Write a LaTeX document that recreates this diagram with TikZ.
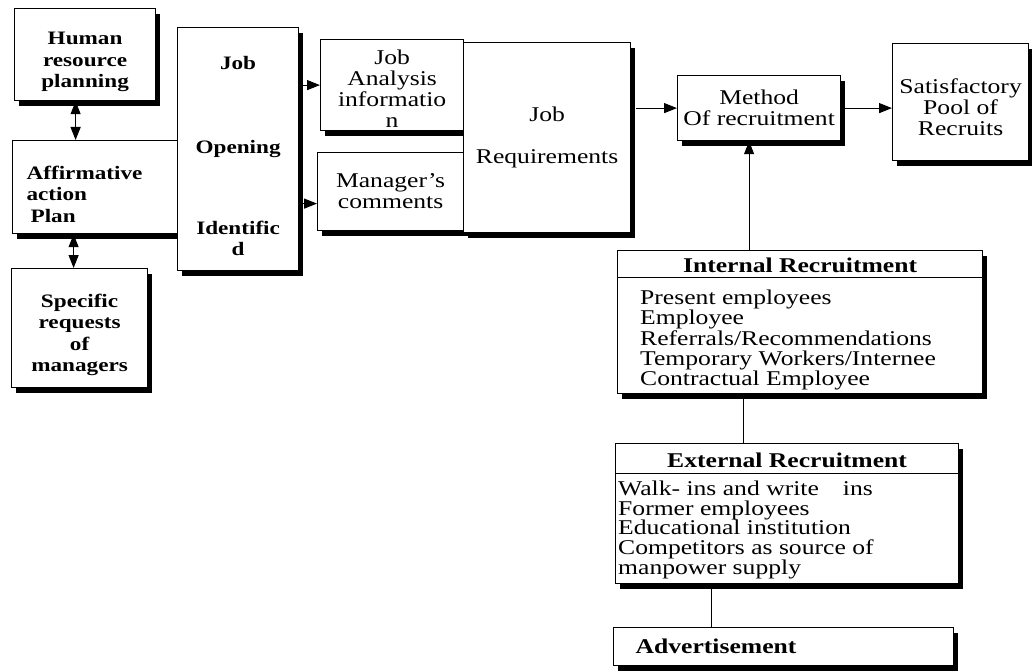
\documentclass[tikz,border=0pt]{standalone}
\usepackage{fontspec}
\setmainfont{Liberation Serif}[FakeStretch=1.22]
\usetikzlibrary{arrows.meta,shadows}
\newcommand{\fr}{\fontsize{21}{21}\selectfont}
\newcommand{\fb}{\bfseries\fontsize{19}{21.5}\selectfont}
\newcommand{\fh}{\bfseries\fontsize{21}{21}\selectfont}
\tikzset{
  box/.style={draw, line width=1.2pt, fill=white, anchor=north west, inner sep=0pt,
    drop shadow={shadow xshift=4.5pt, shadow yshift=-5.5pt, fill=black, opacity=1}},
  lbl/.style={inner sep=0pt, align=left},
  conn/.style={line width=1.1pt},
  arr/.style={conn, -{Triangle[length=13pt,width=10pt]}},
  dbl/.style={conn, {Triangle[length=13pt,width=10pt]}-{Triangle[length=13pt,width=10pt]}}
}
\begin{document}
\begin{tikzpicture}[x=1pt,y=-1pt]
\useasboundingbox (0,0) rectangle (1032,671);
% left column
\node[box, minimum width=141pt, minimum height=92pt, align=center, font=\fb] (hrp) at (14,8) {\rule{0pt}{27pt}Human\\resource\\planning};
\node[box, minimum width=165pt, minimum height=93pt, text width=137pt, inner xsep=14pt, align=left, font=\fb] (aap) at (12,140) {\rule{0pt}{27pt}Affirmative\\action\\\hspace*{4pt}Plan};
\node[box, minimum width=136pt, minimum height=119pt, align=center, font=\fb] (spec) at (11,268) {\rule{0pt}{27pt}Specific\\requests\\of\\managers};
\node[box, minimum width=121pt, minimum height=243pt, align=center, font=\fb] (joi) at (177,27) {\rule{0pt}{27pt}Job\\[63pt]Opening\\[59pt]Identific\\d};
% middle
\node[box, minimum width=143pt, minimum height=91pt, align=center, font=\fr] (jai) at (320,39) {\rule{0pt}{22pt}Job\\Analysis\\informatio\\n};
\node[box, minimum width=146pt, minimum height=78pt, align=center, font=\fr] (mgr) at (317,152) {Manager’s\\comments};
\node[box, minimum width=167pt, minimum height=190pt, align=center, font=\fr] (jr) at (463,42) {Job\\[21pt]Requirements};
% right
\node[box, minimum width=163pt, minimum height=65pt, align=center, font=\fr] (meth) at (677,75) {Method\\Of recruitment};
\node[box, minimum width=136pt, minimum height=117pt, align=center, font=\fr] (sat) at (892,43) {\rule{0pt}{26pt}Satisfactory\\Pool of\\Recruits};
% internal
\node[box, minimum width=365pt, minimum height=143pt] (intr) at (617,250) {};
\node[lbl, anchor=base, font=\fh] (intrh) at ([yshift=-22pt]intr.north) {Internal Recruitment};
\coordinate (intrl) at ([yshift=-27pt]intr.north);
\draw[line width=1pt] (intr.west |- intrl) -- (intr.east |- intrl);
\node[lbl, anchor=north west, font=\fontsize{21}{20.2}\selectfont] (intrb) at ([xshift=23pt,yshift=-40pt]intr.north west)
  {Present employees\\Employee\\Referrals/Recommendations\\Temporary Workers/Internee\\Contractual Employee};
% external
\node[box, minimum width=343pt, minimum height=140pt] (extr) at (615,443) {};
\node[lbl, anchor=base, font=\fh] (extrh) at ([yshift=-24pt]extr.north) {External Recruitment};
\coordinate (extrl) at ([yshift=-30pt]extr.north);
\draw[line width=1pt] (extr.west |- extrl) -- (extr.east |- extrl);
\node[lbl, anchor=north west, font=\fontsize{21}{19.6}\selectfont] (extrb) at ([xshift=3pt,yshift=-38pt]extr.north west)
  {Walk- ins and write\hspace{24pt}ins\\Former employees\\Educational institution\\Competitors as source of\\manpower supply};
% advertisement
\node[box, minimum width=340pt, minimum height=38pt, text width=296pt, inner xsep=22pt, align=left, font=\fh] (adv) at (613,627) {Advertisement};
% connectors
\coordinate (mgrin) at ([yshift=-12pt]mgr.west);
\draw[dbl] ([xshift=-9.5pt]hrp.south) -- ([xshift=-9.5pt]hrp.south |- aap.north);
\draw[dbl] ([xshift=-6pt]spec.north |- aap.south) -- ([xshift=-6pt]spec.north);
\draw[arr] (joi.east |- jai.west) -- (jai.west);
\draw[arr] (joi.east |- mgrin) -- (mgrin);
\draw[arr] ([xshift=5pt]jr.east |- meth.west) -- (meth.west);
\draw[arr] (meth.east) -- (meth.east -| sat.west);
\draw[arr] ([xshift=-10pt]meth.south |- intr.north) -- ([xshift=-10pt]meth.south);
\draw[conn] ([xshift=-57pt]intr.south) -- ([xshift=-57pt]intr.south |- extr.north);
\draw[conn] ([xshift=-76pt]extr.south) -- ([xshift=-76pt]extr.south |- adv.north);
\end{tikzpicture}
\end{document}
